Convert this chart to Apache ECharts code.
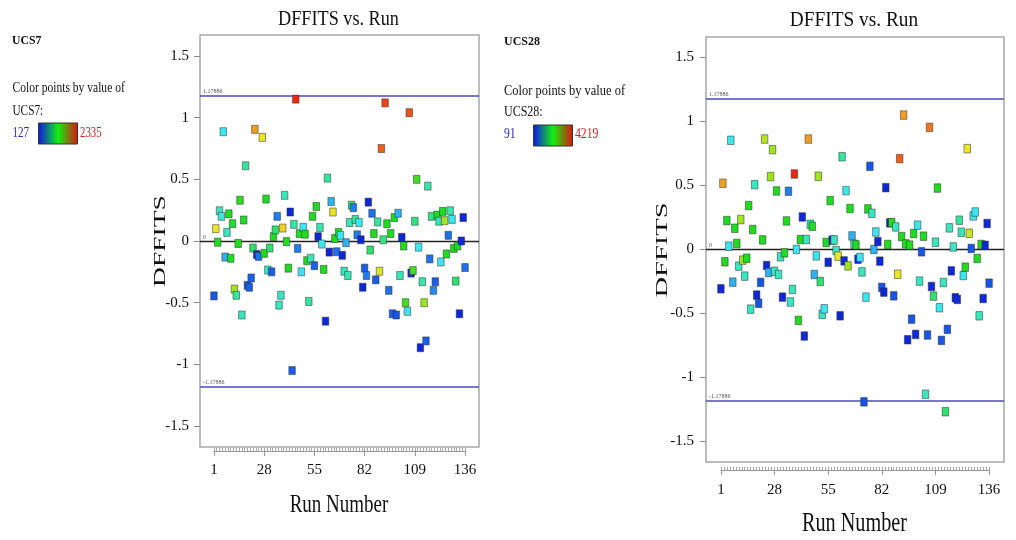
<!DOCTYPE html>
<html>
<head>
<meta charset="utf-8">
<script src="https://cdn.jsdelivr.net/npm/echarts@6/dist/echarts.min.js"></script>
<style>
html, body { margin: 0; padding: 0; background: #ffffff; }
#chart { width: 1016px; height: 540px; }
</style>
</head>
<body>
<div id="chart"></div>
<script>
// DFFITS per run (index 0 = run 1), coloured by UCS7
const dffitsUCS7 = [
  -0.445, 0.10, -0.01, 0.245, 0.20, 0.886, -0.13, 0.07, 0.22, -0.14,
  0.14, -0.39, -0.44, -0.02, 0.33, -0.60, 0.17, 0.61, -0.36, -0.375,
  -0.30, -0.057, 0.905, -0.11, -0.125, null, 0.84, -0.10, 0.34, -0.235,
  -0.057, -0.25, 0.035, 0.09, 0.20, -0.52, -0.44, 0.105, 0.37, -0.005,
  -0.22, 0.235, -1.05, 0.135, 1.15, -0.06, 0.06, -0.25, 0.11, 0.055,
  -0.16, -0.49, -0.14, 0.20, -0.20, 0.28, 0.035, 0.11, -0.025, -0.23,
  -0.65, 0.51, -0.09, 0.32, 0.235, 0.02, -0.087, 0.07, 0.046, -0.116,
  -0.245, -0.014, -0.28, 0.15, 0.29, 0.27, 0.175, 0.05, 0.15, 0.01,
  -0.375, -0.22, -0.28, 0.315, -0.073, 0.225, 0.06, -0.315, 0.155, -0.245,
  0.75, 0.01, 1.12, 0.14, -0.40, 0.06, -0.59, 0.19, -0.60, 0.225,
  -0.28, 0.03, -0.04, -0.50, -0.57, 1.04, -0.26, -0.24, 0.16, 0.50,
  -0.05, -0.865, -0.33, -0.50, -0.81, 0.445, -0.145, 0.20, -0.40, -0.33,
  0.21, 0.16, -0.17, 0.24, 0.165, -0.105, 0.046, 0.245, 0.175, -0.06,
  -0.325, -0.04, -0.59, 0.0, 0.19, -0.215
];
const ucs7 = [
  304, 1761, 1231, 834, 760, 679, 547, 834, 1231, 1231,
  1190, 1496, 944, 1231, 1260, 834, 1200, 944, 304, 330,
  330, 1054, 2004, 171, 380, null, 1761, 1231, 1231, 834,
  1054, 330, 1231, 1054, 414, 834, 834, 1850, 834, 1231,
  1231, 171, 330, 900, 2313, 414, 1231, 679, 679, 1231,
  1231, 944, 870, 1231, 330, 1231, 171, 900, 679, 1231,
  171, 944, 171, 547, 1761, 1231, 380, 1231, 679, 171,
  870, 547, 870, 870, 1054, 414, 944, 414, 679, 171,
  171, 330, 414, 171, 1054, 380, 1231, 330, 944, 1700,
  2180, 1000, 2250, 1231, 380, 1231, 330, 1231, 300, 547,
  870, 171, 1231, 1300, 679, 2200, 200, 1300, 1000, 1300,
  679, 171, 900, 1496, 330, 900, 380, 1000, 450, 330,
  1231, 870, 679, 1231, 1500, 1231, 380, 900, 679, 1231,
  1054, 1231, 171, 171, 171, 380
];

// DFFITS per run (index 0 = run 1), coloured by UCS28
const dffitsUCS28 = [
  -0.307, 0.517, -0.096, 0.226, 0.026, 0.853, -0.255, 0.166, 0.047, -0.13,
  0.234, -0.083, -0.208, -0.068, 0.343, -0.466, 0.156, 0.507, -0.356, -0.42,
  -0.257, 0.075, 0.863, -0.125, -0.18, 0.57, 0.78, -0.17, 0.457, -0.195,
  -0.057, -0.372, -0.026, 0.223, 0.455, -0.41, -0.312, 0.59, 0.0, -0.554,
  0.078, 0.254, -0.676, 0.078, 0.863, 0.197, 0.182, -0.195, -0.05, 0.572,
  -0.25, -0.507, -0.463, 0.055, -0.10, 0.382, 0.073, 0.075, -0.008, -0.052,
  -0.518, 0.725, -0.089, 0.46, -0.128, 0.32, 0.106, 0.041, 0.036, -0.076,
  -0.062, -0.175, -1.19, -0.372, 0.317, 0.65, 0.283, 0.0, 0.137, 0.062,
  -0.091, -0.296, -0.333, 0.483, 0.039, 0.208, 0.21, -0.362, 0.176, -0.193,
  0.71, 0.101, 1.05, 0.044, -0.705, 0.034, -0.544, 0.125, -0.663, 0.19,
  -0.247, -0.018, 0.104, -1.131, -0.668, 0.954, -0.289, -0.364, 0.057, 0.48,
  -0.455, -0.71, -0.258, -1.267, -0.624, 0.169, -0.167, 0.02, -0.377, -0.39,
  0.229, 0.135, -0.203, -0.138, 0.788, 0.127, 0.008, 0.262, 0.293, -0.07,
  -0.518, 0.039, -0.383, 0.033, 0.203, -0.263
];
const ucs28 = [
  174, 3600, 2155, 2155, 1123, 1123, 875, 2155, 2155, 1412,
  2650, 2650, 1412, 2155, 2155, 1412, 2155, 1412, 174, 421,
  421, 2155, 2800, 174, 875, 2650, 2650, 1412, 2155, 1412,
  1412, 174, 2155, 2155, 628, 1412, 1412, 4178, 1123, 2155,
  2155, 174, 174, 1412, 3600, 1412, 2155, 875, 1123, 2650,
  1825, 1412, 1123, 2155, 174, 2155, 174, 1412, 1412, 3146,
  174, 1618, 174, 1123, 2650, 2155, 875, 1412, 2155, 174,
  1123, 1412, 421, 1123, 2155, 421, 1412, 875, 1123, 174,
  174, 421, 174, 174, 2155, 174, 2155, 421, 1412, 3146,
  3930, 2155, 3600, 2155, 174, 2155, 421, 2155, 174, 1123,
  1412, 421, 2155, 1412, 421, 3800, 174, 1825, 1412, 2155,
  1123, 421, 1412, 1825, 421, 1412, 174, 1412, 174, 174,
  1618, 1412, 1123, 2155, 3146, 2900, 421, 1123, 1123, 2155,
  1412, 2155, 174, 174, 174, 421
];

const yTickValues = [-1.5, -1, -0.5, 0, 0.5, 1, 1.5];
const runTickStep = 27;          // labelled runs: 1, 28, 55, 82, 109, 136
const dffitsLimit = 1.17886;
const limitLabels = ['1.17886', '0', '-1.17886'];
const ucs7Range = [127, 2335];
const ucs28Range = [91, 4219];

const SERIF = '"Liberation Serif", "Times New Roman", serif';
const JET = ['#0a18d4', '#1e78f0', '#3ce6f0', '#34e69a', '#1edc1e',
             '#a2e61e', '#f0e628', '#f08c1e', '#ee1e14'];

function points(dffits, ucs) {
  const out = [];
  dffits.forEach((v, i) => {
    if (v !== null) out.push([i + 1, v, ucs[i]]);
  });
  return out;
}

function limitLines() {
  const blue = { color: '#4b4bb4', width: 1.6, type: 'solid' };
  const zero = { color: '#222222', width: 1.3, type: 'solid' };
  return {
    silent: true,
    z: 1,
    symbol: ['none', 'none'],
    animation: false,
    label: {
      show: true, position: 'insideStartTop', distance: [3, 1],
      fontSize: 6, color: '#555', fontFamily: SERIF
    },
    data: [
      { yAxis: dffitsLimit, lineStyle: blue, label: { formatter: limitLabels[0] } },
      { yAxis: 0, lineStyle: zero, label: { formatter: limitLabels[1] } },
      { yAxis: -dffitsLimit, lineStyle: blue, label: { formatter: limitLabels[2] } }
    ]
  };
}

function plotY(gridIndex, ext, margin) {
  return {
    gridIndex, type: 'value', min: -ext, max: ext,
    axisLine: { show: false, onZero: false },
    axisTick: { show: true, inside: false, customValues: yTickValues, length: 6, lineStyle: { color: '#8a8a8a' } },
    axisLabel: { customValues: yTickValues, margin, fontFamily: SERIF, fontSize: 15, color: '#111' },
    splitLine: { show: false }
  };
}

function rulerMajor(gridIndex, margin) {
  return {
    gridIndex, type: 'value', min: 0, max: 135, interval: runTickStep, position: 'bottom',
    axisLine: { show: true, onZero: false, lineStyle: { color: '#9a9a9a', width: 1 } },
    axisTick: { show: true, inside: false, length: 5, lineStyle: { color: '#9a9a9a' } },
    axisLabel: { margin, fontFamily: SERIF, fontSize: 15, color: '#111', formatter: v => String(v + 1) },
    splitLine: { show: false }
  };
}

function rulerMinor(gridIndex) {
  return {
    gridIndex, type: 'value', min: 0, max: 135, interval: 1.5, position: 'bottom',
    axisLine: { show: false, onZero: false },
    axisTick: { show: true, inside: true, length: 3, lineStyle: { color: '#a8a8a8' } },
    axisLabel: { show: false },
    splitLine: { show: false }
  };
}

function label(x, y, text, size, opt) {
  opt = opt || {};
  const align = opt.align || 'left';
  return {
    type: 'text', x, y,
    rotation: opt.rotation || 0,
    scaleX: opt.scaleX || 1,
    scaleY: 1,
    silent: true,
    style: {
      text,
      font: (opt.bold ? 'bold ' : '') + size + 'px ' + SERIF,
      fill: opt.color || '#111',
      align, verticalAlign: 'middle',
      textAlign: align, textVerticalAlign: 'middle'
    }
  };
}

function gradientBox(x, y) {
  return {
    type: 'rect', silent: true,
    shape: { x, y, width: 39, height: 21 },
    style: {
      fill: {
        type: 'linear', x: 0, y: 0, x2: 1, y2: 0,
        colorStops: [
          { offset: 0, color: '#1010f0' },
          { offset: 0.5, color: '#10f010' },
          { offset: 1, color: '#e01010' }
        ]
      },
      stroke: '#333', lineWidth: 1
    }
  };
}

const chart = echarts.init(document.getElementById('chart'), null, { renderer: 'canvas' });

chart.setOption({
  animation: false,
  backgroundColor: '#ffffff',
  grid: [
    { left: 200, top: 35, width: 279, height: 412, show: true, borderColor: '#a8a8a8', borderWidth: 1.5, backgroundColor: '#fff' },
    { left: 706, top: 37, width: 298, height: 425, show: true, borderColor: '#a8a8a8', borderWidth: 1.5, backgroundColor: '#fff' },
    { left: 213.95, top: 446, width: 251.1, height: 5 },
    { left: 720.9, top: 465, width: 268.2, height: 5 }
  ],
  xAxis: [
    { gridIndex: 0, type: 'value', min: -6.5, max: 143.5, show: false },
    { gridIndex: 1, type: 'value', min: -6.5, max: 143.5, show: false },
    rulerMajor(2, 12),
    rulerMinor(2),
    rulerMajor(3, 12.5),
    rulerMinor(3)
  ],
  yAxis: [
    plotY(0, 1.67, 11),
    plotY(1, 1.66, 12),
    { gridIndex: 2, type: 'value', show: false },
    { gridIndex: 3, type: 'value', show: false }
  ],
  visualMap: [
    { type: 'continuous', show: false, seriesIndex: 0, dimension: 2,
      min: ucs7Range[0], max: ucs7Range[1], inRange: { color: JET } },
    { type: 'continuous', show: false, seriesIndex: 1, dimension: 2,
      min: ucs28Range[0], max: ucs28Range[1], inRange: { color: JET } }
  ],
  series: [
    {
      name: 'UCS7', type: 'scatter', xAxisIndex: 0, yAxisIndex: 0, z: 3,
      symbol: 'rect', symbolSize: [6.5, 8],
      itemStyle: { borderColor: 'rgba(50,50,50,0.65)', borderWidth: 0.8, opacity: 1 },
      data: points(dffitsUCS7, ucs7),
      markLine: limitLines()
    },
    {
      name: 'UCS28', type: 'scatter', xAxisIndex: 1, yAxisIndex: 1, z: 3,
      symbol: 'rect', symbolSize: [6.5, 8.5],
      itemStyle: { borderColor: 'rgba(50,50,50,0.65)', borderWidth: 0.8, opacity: 1 },
      data: points(dffitsUCS28, ucs28),
      markLine: limitLines()
    }
  ],
  graphic: [
    // titles
    label(338.5, 20, 'DFFITS vs. Run', 20, { align: 'center', scaleX: 0.91 }),
    label(854, 20, 'DFFITS vs. Run', 21, { align: 'center', scaleX: 0.92 }),
    // axis names
    label(160.5, 241, 'DFFITS', 16.5, { align: 'center', rotation: Math.PI / 2, scaleX: 1.67 }),
    label(663, 250, 'DFFITS', 17, { align: 'center', rotation: Math.PI / 2, scaleX: 1.68 }),
    label(339, 505.5, 'Run Number', 26, { align: 'center', scaleX: 0.73 }),
    label(854.5, 523.5, 'Run Number', 27, { align: 'center', scaleX: 0.75 }),
    // colour key, UCS7
    label(12, 41, 'UCS7', 13, { bold: true, scaleX: 0.9 }),
    label(12.5, 88, 'Color points by value of', 15, { scaleX: 0.77 }),
    label(12.5, 111, 'UCS7:', 15, { scaleX: 0.75 }),
    label(12.5, 133, '127', 15, { color: '#2a2ad0', scaleX: 0.74 }),
    gradientBox(38.5, 123),
    label(80, 133, '2335', 15, { color: '#cc1f1f', scaleX: 0.72 }),
    // colour key, UCS28
    label(504, 42, 'UCS28', 13, { bold: true, scaleX: 0.92 }),
    label(504, 91.5, 'Color points by value of', 15, { scaleX: 0.83 }),
    label(504, 112.5, 'UCS28:', 15, { scaleX: 0.8 }),
    label(504, 134, '91', 15, { color: '#2a2ad0', scaleX: 0.78 }),
    gradientBox(533.5, 125),
    label(575, 134, '4219', 15, { color: '#cc1f1f', scaleX: 0.78 })
  ]
});
</script>
</body>
</html>
